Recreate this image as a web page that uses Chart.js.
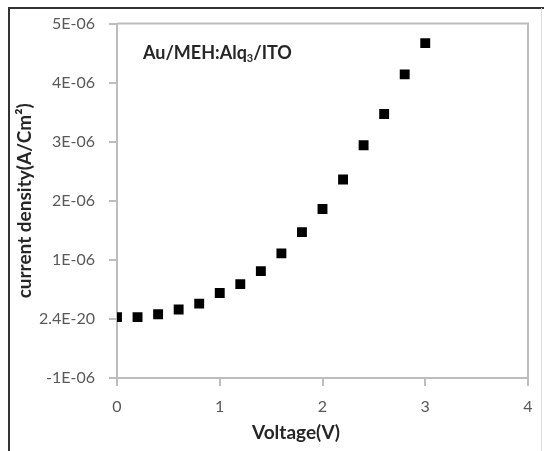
<!DOCTYPE html>
<html>
<head>
<meta charset="utf-8">
<script src="https://cdn.jsdelivr.net/npm/chart.js@4/dist/chart.umd.min.js"></script>
<style>
html, body { margin: 0; padding: 0; background: #ffffff; }
#wrap { width: 544px; height: 451px; position: relative; }
</style>
</head>
<body>
<div id="wrap"><canvas id="c" width="544" height="451"></canvas></div>
<script>
const voltage = [0, 0.2, 0.4, 0.6, 0.8, 1.0, 1.2, 1.4, 1.6, 1.8, 2.0, 2.2, 2.4, 2.6, 2.8, 3.0];
const currentDensity = [0.03e-6, 0.03e-6, 0.08e-6, 0.16e-6, 0.26e-6, 0.44e-6, 0.59e-6, 0.81e-6, 1.11e-6, 1.47e-6, 1.86e-6, 2.36e-6, 2.94e-6, 3.47e-6, 4.14e-6, 4.67e-6];
const yTickLabels = ['-1E-06', '2.4E-20', '1E-06', '2E-06', '3E-06', '4E-06', '5E-06'];
const xTickLabels = ['0', '1', '2', '3', '4'];
const sampleLabel = ['Au/MEH:Alq', '3', '/ITO'];
const xTitle = 'Voltage(V)';
const yTitle = 'current density(A/Cm\u00B2)';

const FONT = 'Lato, "Open Sans", sans-serif';
const AXIS = '#bdbdbd';

const decor = {
  id: 'decor',
  beforeDraw(chart) {
    const ctx = chart.ctx;
    ctx.save();
    ctx.fillStyle = '#ffffff';
    ctx.fillRect(0, 0, chart.width, chart.height);
    // outer frame
    ctx.strokeStyle = '#333333';
    ctx.lineWidth = 2;
    ctx.beginPath();
    ctx.moveTo(9, 451); ctx.lineTo(9, 8); ctx.lineTo(544, 8);
    ctx.stroke();
    ctx.strokeStyle = '#dddddd';
    ctx.lineWidth = 1;
    ctx.beginPath();
    ctx.moveTo(541.5, 8); ctx.lineTo(541.5, 451);
    ctx.stroke();
    ctx.restore();
  },
  afterDraw(chart) {
    const ctx = chart.ctx;
    const a = chart.chartArea;
    ctx.save();
    // plot frame (top and right)
    ctx.strokeStyle = AXIS;
    ctx.lineWidth = 2;
    ctx.beginPath();
    ctx.moveTo(a.left, a.top); ctx.lineTo(a.right, a.top); ctx.lineTo(a.right, a.bottom);
    ctx.stroke();
    // sample label
    ctx.fillStyle = '#262626';
    ctx.textBaseline = 'alphabetic';
    ctx.textAlign = 'left';
    ctx.font = 'bold 18px ' + FONT;
    let x = 143, y = 59;
    ctx.fillText(sampleLabel[0], x, y);
    x += ctx.measureText(sampleLabel[0]).width;
    ctx.font = 'bold 11px ' + FONT;
    ctx.fillText(sampleLabel[1], x, y + 3);
    x += ctx.measureText(sampleLabel[1]).width;
    ctx.font = 'bold 18px ' + FONT;
    ctx.fillText(sampleLabel[2], x, y);
    // x title
    ctx.textAlign = 'center';
    ctx.textBaseline = 'middle';
    ctx.font = 'bold 19px ' + FONT;
    ctx.fillText(xTitle, 296, 433);
    ctx.restore();
  }
};

new Chart(document.getElementById('c'), {
  type: 'scatter',
  data: {
    datasets: [{
      data: voltage.map((v, i) => ({ x: v, y: currentDensity[i] })),
      pointStyle: 'rect',
      pointRadius: 7,
      pointHoverRadius: 7,
      backgroundColor: '#000000',
      borderColor: '#000000',
      borderWidth: 0
    }]
  },
  options: {
    responsive: false,
    animation: false,
    events: [],
    layout: { padding: { left: 10, top: 22, right: 16, bottom: 10 } },
    plugins: { legend: { display: false }, tooltip: { enabled: false } },
    scales: {
      x: {
        type: 'linear',
        min: 0, max: 4,
        afterFit(s) { s.height = 63; },
        ticks: {
          stepSize: 1,
          padding: 11,
          color: '#595959',
          font: { family: FONT, size: 16 },
          callback: (v, i) => xTickLabels[i]
        },
        grid: { drawOnChartArea: false, drawTicks: true, tickLength: 8, color: AXIS, lineWidth: 2 },
        border: { display: true, color: AXIS, width: 2 }
      },
      y: {
        type: 'linear',
        min: -1e-6, max: 5e-6,
        afterFit(s) { s.width = 107; },
        ticks: {
          stepSize: 1e-6,
          padding: 14,
          color: '#595959',
          font: { family: FONT, size: 16 },
          callback: (v, i) => yTickLabels[i]
        },
        grid: { drawOnChartArea: false, drawTicks: true, tickLength: 8, color: AXIS, lineWidth: 2 },
        border: { display: true, color: AXIS, width: 2 },
        title: {
          display: true,
          text: yTitle,
          color: '#262626',
          font: { family: FONT, size: 19, weight: 'bold' },
          padding: { top: 3, bottom: 0 }
        }
      }
    }
  },
  plugins: [decor]
});
</script>
</body>
</html>
